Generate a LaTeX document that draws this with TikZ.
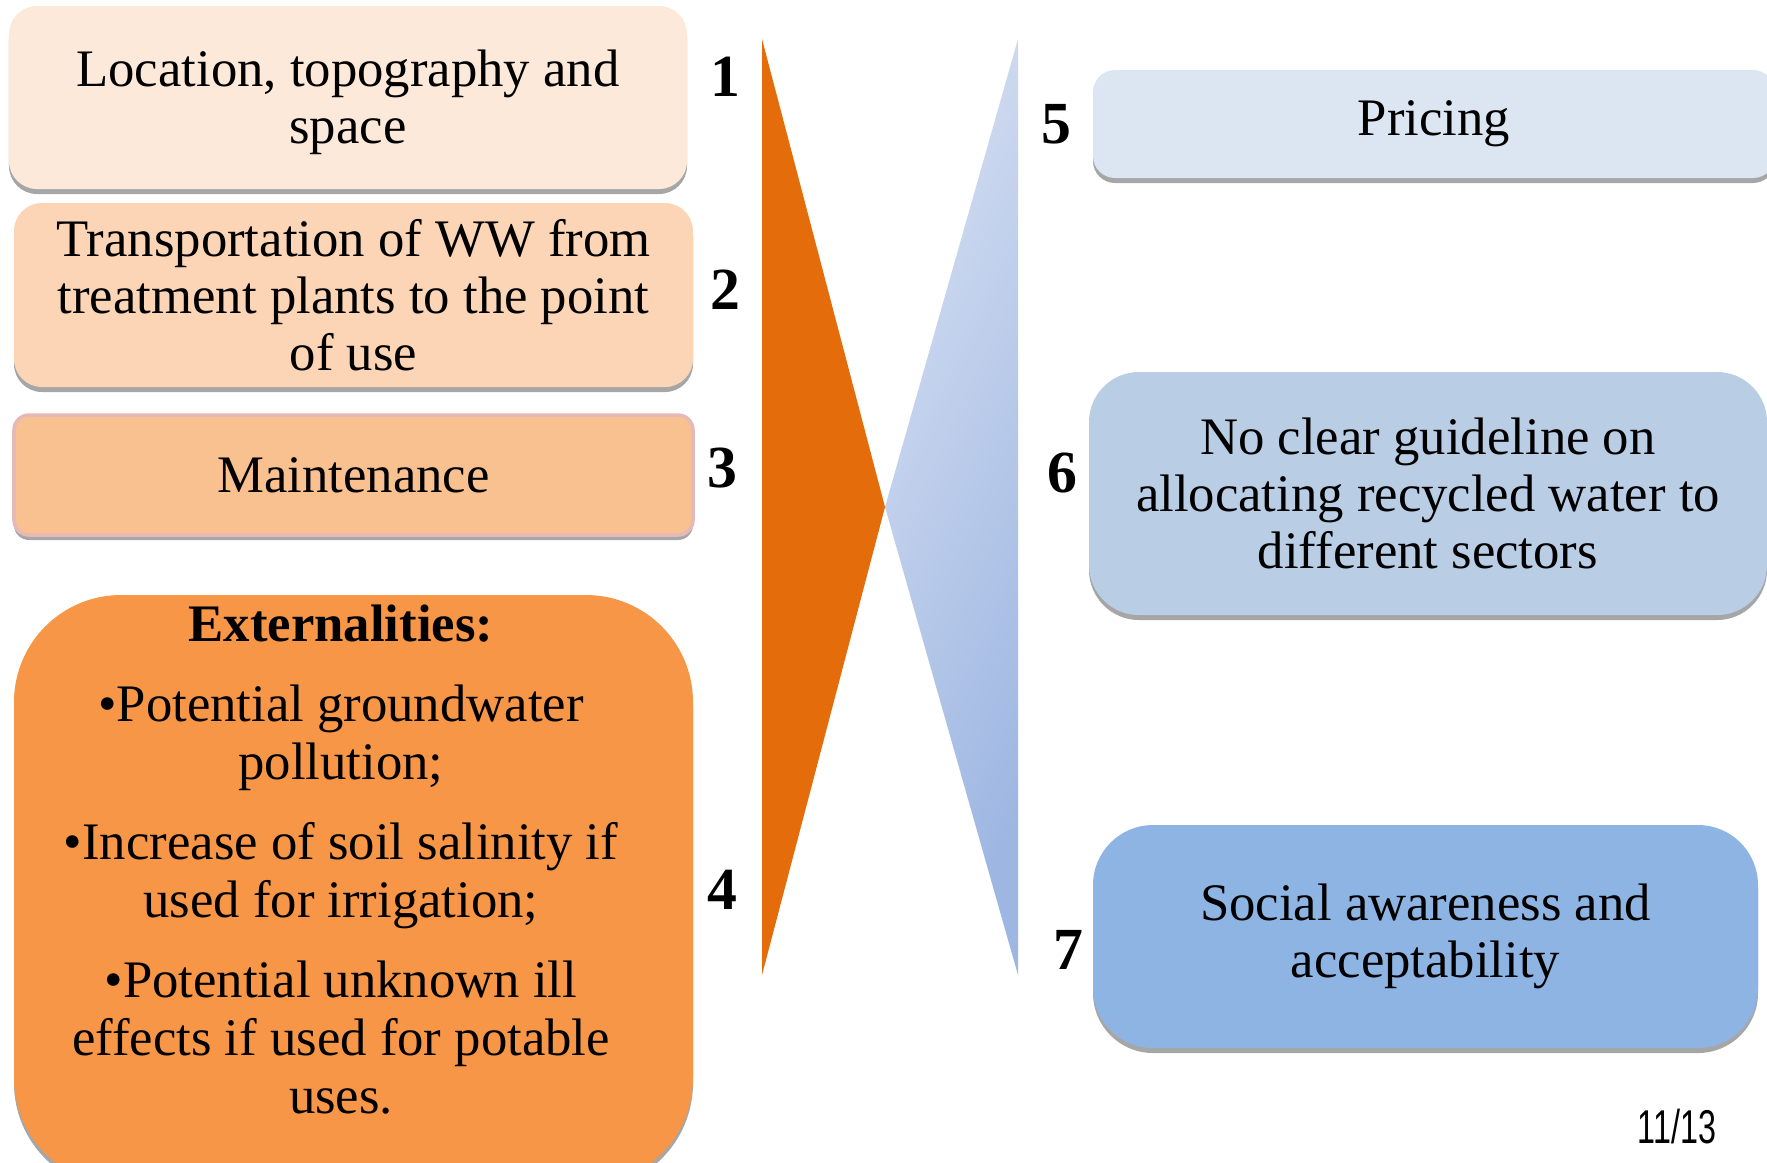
\documentclass[tikz,border=0pt]{standalone}
\usepackage{fontspec}
\setmainfont{Liberation Serif}
\setsansfont{Liberation Sans}
\usetikzlibrary{shadows}
\definecolor{peachA}{HTML}{FDE9D9}
\definecolor{peachB}{HTML}{FBD5B5}
\definecolor{peachC}{HTML}{F9C090}
\definecolor{pinkline}{HTML}{E6B9B8}
\definecolor{orangeD}{HTML}{F79646}
\definecolor{orangeTri}{HTML}{E46C0A}
\definecolor{blueA}{HTML}{DCE6F2}
\definecolor{blueB}{HTML}{B9CDE5}
\definecolor{blueC}{HTML}{8EB4E3}
\definecolor{triblueA}{HTML}{D4DEF1}
\definecolor{triblueB}{HTML}{9DB6E2}
\tikzset{%
  box/.style = {rectangle, rounded corners=0.28cm, inner sep=2pt, align=center,
                font=\fontsize{15}{16.2}\selectfont,
                drop shadow={shadow xshift=0pt, shadow yshift=-0.05cm,
                             fill=gray!70, opacity=1}},
  boxtxt/.style = {align=center, font=\fontsize{15}{16.5}\selectfont},
  num/.style = {font=\fontsize{17}{17}\selectfont\bfseries, inner sep=0pt},
  pgno/.style = {font=\sffamily\fontsize{13.5}{13.5}\selectfont, inner sep=0pt}
  }

\begin{document}
\begin{tikzpicture}
  \useasboundingbox (0,0) rectangle (17.67,-11.62);

  % left column
  \begin{scope}
    \node (loc) [box, fill=peachA, minimum width=6.78cm, minimum height=1.83cm]
      at (3.48,-0.975) {\\[-0.1cm]Location, topography and\\space};
    \node (trans) [box, fill=peachB, minimum width=6.79cm, minimum height=1.84cm]
      at (3.535,-2.95) {Transportation of WW from\\treatment plants to the point\\of use};
    \node (maint) [box, fill=peachC, draw=pinkline, line width=1pt, rounded corners=0.15cm,
                   minimum width=6.79cm, minimum height=1.2cm]
      at (3.535,-4.75) {Maintenance};
    \node (ext) [box, fill=orangeD, rounded corners=1.07cm,
                 minimum width=6.79cm, minimum height=5.9cm]
      at (3.535,-8.9) {};
    \node (exttxt) [boxtxt] at (3.41,-8.6)
      {\textbf{Externalities:}\\[0.22cm]
       •Potential groundwater\\pollution;\\[0.22cm]
       •Increase of soil salinity if\\used for irrigation;\\[0.22cm]
       •Potential unknown ill\\effects if used for potable\\uses.};

    \node (n1) [num] at (7.25,-0.77) {1};
    \node (n2) [num] at (7.25,-2.90) {2};
    \node (n3) [num] at (7.22,-4.68) {3};
    \node (n4) [num] at (7.22,-8.90) {4};
  \end{scope}

  % the two triangles
  \coordinate (ot) at (7.62,-0.39);
  \coordinate (ob) at (7.62,-9.75);
  \coordinate (apex) at (8.85,-5.07);
  \coordinate (bt) at (10.18,-0.39);
  \coordinate (bb) at (10.18,-9.75);
  \fill[orangeTri] (ot) -- (apex) -- (ob) -- cycle;
  \shade[left color=triblueA, right color=triblueB, shading angle=65]
    (bt) -- (apex) -- (bb) -- cycle;

  % right column
  \begin{scope}
    \node (price) [box, fill=blueA, rounded corners=0.22cm,
                   minimum width=6.82cm, minimum height=1.08cm]
      at (14.34,-1.24) {Pricing};
    \node (guide) [box, fill=blueB, rounded corners=0.5cm,
                   minimum width=6.78cm, minimum height=2.43cm]
      at (14.28,-4.935) {No clear guideline on\\allocating recycled water to\\different sectors};
    \node (social) [box, fill=blueC, rounded corners=0.6cm,
                    minimum width=6.65cm, minimum height=2.23cm]
      at (14.255,-9.365) {Social awareness and\\acceptability};

    \node (n5) [num] at (10.56,-1.24) {5};
    \node (n6) [num] at (10.62,-4.73) {6};
    \node (n7) [num] at (10.68,-9.50) {7};
  \end{scope}

  \node (page) [pgno] at (16.77,-11.27) {\scalebox{0.68}[1]{11/13}};
\end{tikzpicture}
\end{document}
